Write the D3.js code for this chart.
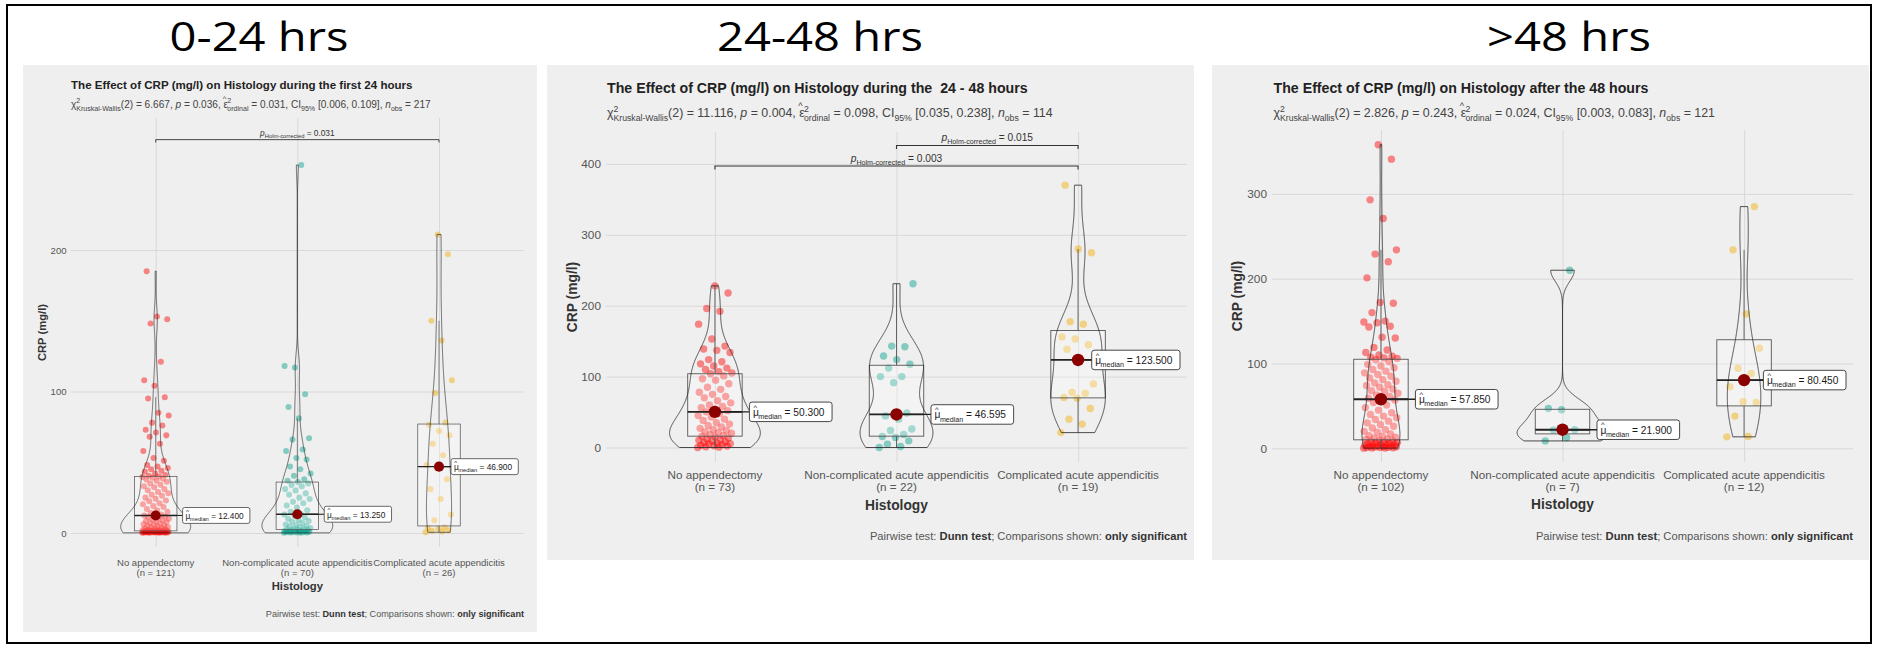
<!DOCTYPE html>
<html>
<head>
<meta charset="utf-8">
<script src="https://cdn.jsdelivr.net/npm/d3@7"></script>
<style>
  body { margin: 0; background: #fff; }
  svg text { font-family: "Liberation Sans", Arial, sans-serif; white-space: pre; }
</style>
</head>
<body>
<svg id="chart" width="1878" height="647"></svg>
<script>
// ---- data ----
const periodTitles = ['0-24 hrs', '24-48 hrs', '>48 hrs'];
const plotTitles = [
  'The Effect of CRP (mg/l) on Histology during the first 24 hours',
  'The Effect of CRP (mg/l) on Histology during the  24 - 48 hours',
  'The Effect of CRP (mg/l) on Histology after the 48 hours'
];
const categories = ['No appendectomy', 'Non-complicated acute appendicitis', 'Complicated acute appendicitis'];
const groupCounts = [[121, 70, 26], [73, 22, 19], [102, 7, 12]];

const chiSquared = ['6.667', '11.116', '2.826'];
const pValues = ['0.036', '0.004', '0.243'];
const epsilonSq = ['0.031', '0.098', '0.024'];
const ci95 = ['[0.006, 0.109]', '[0.035, 0.238]', '[0.003, 0.083]'];
const nObs = ['217', '114', '121'];

const medians = [[12.4, 13.25, 46.9], [50.3, 46.595, 123.5], [57.85, 21.9, 80.45]];
const lowerQuartiles = [[1.5, 2.5, 5], [16, 16, 70], [10, 17, 50]];
const upperQuartiles = [[40, 36, 77], [104, 116, 165], [105, 46, 128]];
const yTicks = [[0, 100, 200], [0, 100, 200, 300, 400], [0, 100, 200, 300]];

// significant Dunn comparisons: groups a-b, bracket level (mg/l), Holm p
const pairwise = [
  [{ a: 0, b: 2, level: 278, p: '0.031' }],
  [{ a: 1, b: 2, level: 426, p: '0.015' }, { a: 0, b: 2, level: 397, p: '0.003' }],
  []
];

// CRP values per patient (mg/l)
const crp24None = [0.1, 0.1, 0.2, 0.2, 0.3, 0.3, 0.3, 0.4, 0.4, 0.5, 0.5, 0.5, 0.6, 0.6, 0.7, 0.7, 0.8, 0.8, 0.9, 0.9,
  1, 1, 1, 1.1, 1.2, 1.2, 1.3, 1.3, 1.4, 1.4, 1.5, 1.6, 1.8, 2, 2.1, 2.3, 2.5, 2.8, 3, 3.2, 3.5, 3.9, 4.2, 4.5, 4.9,
  5.3, 5.8, 6.2, 6.7, 7.1, 7.6, 8, 8.5, 9, 9.6, 10.1, 10.7, 11.2, 11.7, 12.1, 12.4, 13, 14.2, 15, 16.1, 17, 18.4, 19,
  20.3, 21, 22.5, 23, 24.2, 25, 26.4, 27, 28.1, 29, 30.2, 31, 32.3, 33, 34.1, 35, 36.2, 37, 37.8, 38.4, 39, 39.6, 40,
  40.5, 41, 42, 43.5, 44, 45, 46, 47, 48, 51, 53, 58, 63, 68, 69, 71, 73, 76, 78, 83, 85, 95, 96, 104, 108, 121, 148,
  151, 153, 185];
const crp24Simple = [0.1, 0.2, 0.3, 0.3, 0.4, 0.5, 0.5, 0.6, 0.8, 0.9, 1, 1.1, 1.3, 1.5, 1.7, 1.9, 2.1, 2.4,
  2.6, 2.8, 3, 3.5, 4, 4.5, 5, 5.5, 6, 7, 8, 8.5, 9, 10, 11, 12, 13, 13.5, 15, 16, 18, 19.5, 21, 22, 24, 25, 27, 28,
  30, 31, 33, 34, 35, 36, 37, 38, 40.5, 42, 45, 47, 52, 53, 58, 59, 66, 67, 81, 89, 98, 117, 118, 260];
const crp24Complicated = [0.5, 1, 1.5, 2, 3, 3.5, 4, 9, 13, 24, 31, 38, 45.8, 48, 55, 63, 69, 72, 76.5, 78, 99, 108,
  136, 150, 197, 211];

const crp48None = [0, 0.5, 1, 2, 2.5, 3, 4, 5, 5.5, 6, 7, 8, 9, 10, 11, 12, 13.5, 15, 16, 17, 18, 20, 21, 22, 24, 25,
  27, 29, 31, 33, 35, 38, 40, 43, 45, 48, 50.3, 52, 54, 56, 58, 60, 63, 66, 70, 72, 75, 78, 82, 85, 90, 95, 97, 101,
  104, 105, 107, 110, 112, 115, 118, 121, 124, 134, 137, 139, 143, 153, 174, 192, 196, 218, 228];
const crp48Simple = [0, 1.5, 4.7, 9.4, 14, 15.5, 18.5, 24, 26, 40, 44.6, 48.6, 91.5, 100, 100, 112, 117.5, 124, 129,
  142, 143, 231];
const crp48Complicated = [21, 33, 40, 55, 69.5, 70.5, 76.5, 78, 89.7, 123.5, 138.5, 145, 153, 156, 174, 177.5, 274.6,
  280, 370];

const crpLateNone = [0.2, 0.3, 0.5, 0.6, 0.8, 1, 1.2, 1.5, 1.8, 2, 2.3, 2.6, 3, 3.4, 3.8, 4.2, 4.6, 5, 5.5, 6, 6.5, 7,
  7.6, 8.2, 9, 9.8, 10.5, 11, 12, 13, 14, 15, 17, 19, 20, 22, 24, 26, 28, 30, 32, 34, 36, 38, 40, 42, 45, 48, 51, 54,
  57, 58.7, 59, 61, 63, 65, 67, 68, 70, 72, 74, 75, 77, 79, 81, 83, 85, 87, 89, 91, 93, 95, 97, 99, 102, 104.5, 106,
  106.5, 107.5, 108.5, 110, 113, 116, 119, 130, 131, 143, 144, 148, 149, 150, 160, 171, 172, 201, 220, 229, 234, 271,
  293, 341, 358];
const crpLateSimple = [8.7, 12.5, 21.5, 21.9, 45.5, 47, 210];
const crpLateComplicated = [13.5, 14, 38, 54, 55, 72.7, 88.2, 94.4, 118, 158.5, 234, 285];

const crpData = [
  [crp24None, crp24Simple, crp24Complicated],
  [crp48None, crp48Simple, crp48Complicated],
  [crpLateNone, crpLateSimple, crpLateComplicated]
];

const groupColors = ['#FF0000', '#00A08A', '#F2AD00'];

// ---- layout ----
const layout = [
  { bg: [23, 65, 514, 567], k: 0.815, left: 70.7, right: 524, top: 118, bottom: 547, y0: 533, y100: 391.5,
    titleX: 71, titleY: 89, subY: 107.5, catY: 566, histY: 590, capY: 617, yTitleX: 42 },
  { bg: [547, 65, 647, 495], k: 1, left: 606, right: 1187, top: 132, bottom: 462, y0: 447.5, y100: 376.6,
    titleX: 607, titleY: 93, subY: 117, catY: 479, histY: 510, capY: 540, yTitleX: 572 },
  { bg: [1212, 65, 657, 495], k: 1, left: 1272, right: 1853, top: 130, bottom: 462, y0: 448.3, y100: 363.5,
    titleX: 1273.5, titleY: 93, subY: 117, catY: 479, histY: 509, capY: 540, yTitleX: 1237 }
];
const periodCenters = [259, 820, 1569];

const svg = d3.select('#chart');

svg.append('rect')
  .attr('x', 7).attr('y', 5).attr('width', 1864).attr('height', 638)
  .attr('fill', 'none').attr('stroke', '#000').attr('stroke-width', 2);

// big period headings (stretched a bit to match the wide original face)
const heads = svg.selectAll('text.period').data(periodTitles).enter().append('text')
  .attr('class', 'period')
  .attr('x', (d, i) => periodCenters[i]).attr('y', 51)
  .attr('text-anchor', 'middle')
  .style('font-family', '"Open Sans", Lato, sans-serif')
  .attr('font-size', 40).attr('fill', '#000')
  .text(d => d);
const stretch = 179 / heads.node().getComputedTextLength();
heads.attr('transform', (d, i) => `translate(${periodCenters[i]},0) scale(${stretch},1) translate(${-periodCenters[i]},0)`);

// text with sub/superscripts and hats
function rich(sel, parts, fs) {
  let cur = 0;
  parts.forEach(p => {
    let off = p.s === 'sub' ? fs * 0.3 : p.s === 'sup' ? -fs * 0.42 : 0;
    if (p.off !== undefined) off = p.off * fs;
    const size = p.size ? fs * p.size : (p.s ? fs * 0.7 : fs);
    const ts = sel.append('tspan').text(p.t)
      .attr('font-size', size)
      .attr('dy', off - cur);
    if (p.dx) ts.attr('dx', p.dx * fs);
    if (p.i) ts.attr('font-style', 'italic');
    if (p.b) ts.attr('font-weight', 'bold').attr('fill', '#333');
    cur = off;
  });
  return sel;
}
const hat = [{ t: '^', off: -0.62, size: 0.75, dx: -0.52 }];

function kde(values) {
  const s = values.slice().sort(d3.ascending);
  const n = s.length;
  const sd = d3.deviation(s);
  const iqr = d3.quantile(s, 0.75) - d3.quantile(s, 0.25);
  let lo = Math.min(sd, iqr / 1.34);
  if (!(lo > 0)) lo = sd;
  const bw = 0.9 * lo * Math.pow(n, -0.2);
  const c = 1 / (n * bw * Math.sqrt(2 * Math.PI));
  return d3.range(512).map(t => {
    const v = s[0] + (s[n - 1] - s[0]) * t / 511;
    return [v, c * d3.sum(s, xi => Math.exp(-0.5 * ((v - xi) / bw) ** 2))];
  });
}

layout.forEach((L, i) => {
  const k = L.k;
  const g = svg.append('g');

  g.append('rect')
    .attr('x', L.bg[0]).attr('y', L.bg[1]).attr('width', L.bg[2]).attr('height', L.bg[3])
    .attr('fill', '#efefef');

  const x = d3.scalePoint().domain(categories).range([L.left, L.right]).padding(0.6);
  const step = x.step();
  const y = d3.scaleLinear().domain([0, 100]).range([L.y0, L.y100]);

  // grid + y labels
  g.append('g')
    .attr('transform', `translate(${L.left},0)`)
    .call(d3.axisLeft(y).tickValues(yTicks[i]).tickSize(-(L.right - L.left)).tickPadding(5 * k).tickFormat(d3.format('d')))
    .call(a => a.select('.domain').remove())
    .call(a => a.selectAll('line').attr('stroke', '#d6d6d6').attr('stroke-width', 0.9))
    .call(a => a.selectAll('text').attr('font-size', 11.8 * k).attr('fill', '#555')
      .style('font-family', '"Liberation Sans", Arial, sans-serif'));

  g.append('g')
    .attr('transform', `translate(0,${L.bottom})`)
    .call(d3.axisBottom(x).tickSize(-(L.bottom - L.top)).tickFormat(''))
    .call(a => a.select('.domain').remove())
    .call(a => a.selectAll('line').attr('stroke', '#d6d6d6').attr('stroke-width', 0.9));

  // jittered points
  crpData[i].forEach((vals, j) => {
    g.append('g').selectAll('circle').data(vals).enter().append('circle')
      .attr('cx', (d, idx) => x(categories[j]) + (((idx * 0.6180339887) % 1) - 0.5) * 2 * 0.095 * step)
      .attr('cy', d => y(d))
      .attr('r', 3.7 * k)
      .attr('fill', groupColors[j])
      .attr('fill-opacity', 0.45);
  });

  // boxplots
  crpData[i].forEach((vals, j) => {
    const cx = x(categories[j]);
    const q1 = lowerQuartiles[i][j], q3 = upperQuartiles[i][j];
    const iqr = q3 - q1;
    const hiW = d3.max(vals.filter(v => v <= q3 + 1.5 * iqr));
    const loW = d3.min(vals.filter(v => v >= q1 - 1.5 * iqr));
    const hw = 0.15 * step;
    g.append('line').attr('x1', cx).attr('x2', cx).attr('y1', y(q3)).attr('y2', y(hiW))
      .attr('stroke', '#555').attr('stroke-width', 0.9 * k);
    g.append('line').attr('x1', cx).attr('x2', cx).attr('y1', y(q1)).attr('y2', y(loW))
      .attr('stroke', '#555').attr('stroke-width', 0.9 * k);
    g.append('rect')
      .attr('x', cx - hw).attr('width', 2 * hw)
      .attr('y', y(q3)).attr('height', y(q1) - y(q3))
      .attr('fill', '#fff').attr('fill-opacity', 0.25)
      .attr('stroke', '#555').attr('stroke-width', 0.9 * k);
    g.append('line').attr('x1', cx - hw).attr('x2', cx + hw)
      .attr('y1', y(medians[i][j])).attr('y2', y(medians[i][j]))
      .attr('stroke', '#222').attr('stroke-width', 1.8 * k);
  });

  // violins, area-scaled within the panel
  const dens = crpData[i].map(kde);
  const maxD = d3.max(dens, d => d3.max(d, p => p[1]));
  dens.forEach((dd, j) => {
    const cx = x(categories[j]);
    const w = d3.scaleLinear().domain([0, maxD]).range([0, 0.25 * step]);
    g.append('path')
      .attr('d', d3.area().y(p => y(p[0])).x0(p => cx - w(p[1])).x1(p => cx + w(p[1]))(dd))
      .attr('fill', 'none').attr('stroke', '#222').attr('stroke-width', 0.8 * k);
  });

  // medians + labels
  categories.forEach((c, j) => {
    const cx = x(c);
    const my = y(medians[i][j]);
    const lg = g.append('g');
    const t = lg.append('text').attr('fill', '#1a1a1a');
    rich(t, [{ t: 'μ' }, ...hat, { t: 'median', s: 'sub', dx: 0.12 },
      { t: ` = ${d3.format('.3f')(medians[i][j])}` }], 10.2 * k);
    const tw = t.node().getComputedTextLength();
    const pad = 3.5 * k, bh = 19.5 * k;
    const bw = tw + 2 * pad;
    const left = Math.min(cx + 0.19 * step, L.right - bw - 7 * k);
    t.attr('x', left + pad).attr('y', my + 4 * k);
    g.append('line').attr('x1', cx).attr('x2', left).attr('y1', my).attr('y2', my)
      .attr('stroke', '#222').attr('stroke-width', 1.3 * k);
    lg.insert('rect', 'text')
      .attr('x', left).attr('y', my - bh / 2).attr('width', bw).attr('height', bh)
      .attr('rx', 2.5 * k).attr('fill', '#fff').attr('stroke', '#333').attr('stroke-width', 0.9 * k);
    g.append('circle').attr('cx', cx).attr('cy', my).attr('r', 6.2 * k).attr('fill', '#8B0000');
    lg.raise();
  });

  // pairwise brackets
  pairwise[i].forEach(b => {
    const yb = y(b.level);
    const x1 = x(categories[b.a]), x2 = x(categories[b.b]);
    const tip = 3.5 * k;
    g.append('path')
      .attr('d', `M${x1},${yb + tip}V${yb}H${x2}V${yb + tip}`)
      .attr('fill', 'none').attr('stroke', '#333').attr('stroke-width', 1.1 * k);
    const t = g.append('text').attr('x', (x1 + x2) / 2).attr('y', yb - 4.5 * k)
      .attr('text-anchor', 'middle').attr('fill', '#333');
    rich(t, [{ t: 'p', i: 1 }, { t: 'Holm-corrected', s: 'sub' }, { t: ` = ${b.p}` }], 10.2 * k);
  });

  // x labels
  categories.forEach((c, j) => {
    g.append('text').attr('x', x(c)).attr('y', L.catY).attr('text-anchor', 'middle')
      .attr('font-size', 11.7 * k).attr('fill', '#555').text(c);
    g.append('text').attr('x', x(c)).attr('y', L.catY + 12.3 * k).attr('text-anchor', 'middle')
      .attr('font-size', 11.7 * k).attr('fill', '#555').text(`(n = ${groupCounts[i][j]})`);
  });

  g.append('text').attr('x', (L.left + L.right) / 2).attr('y', L.histY).attr('text-anchor', 'middle')
    .attr('font-size', 13.8 * k).attr('font-weight', 'bold').attr('fill', '#333').text('Histology');

  g.append('text')
    .attr('transform', `translate(${L.yTitleX + 4.5 * k},${(L.top + L.bottom) / 2}) rotate(-90)`)
    .attr('text-anchor', 'middle')
    .attr('font-size', 13.8 * k).attr('font-weight', 'bold').attr('fill', '#333').text('CRP (mg/l)');

  // titles
  g.append('text').attr('x', L.titleX).attr('y', L.titleY)
    .attr('font-size', 14.2 * k).attr('font-weight', 'bold').attr('fill', '#222').text(plotTitles[i]);

  const sub = g.append('text').attr('x', L.titleX).attr('y', L.subY).attr('fill', '#444');
  rich(sub, [
    { t: 'χ' }, { t: '2', s: 'sup' }, { t: 'Kruskal-Wallis', s: 'sub', dx: -0.39 },
    { t: `(2) = ${chiSquared[i]}, ` }, { t: 'p', i: 1 }, { t: ` = ${pValues[i]}, ` },
    { t: 'ε' }, ...hat, { t: '2', s: 'sup', dx: 0.1 }, { t: 'ordinal', s: 'sub', dx: -0.39 },
    { t: ` = ${epsilonSq[i]}, CI` }, { t: '95%', s: 'sub' }, { t: ` ${ci95[i]}, ` },
    { t: 'n', i: 1 }, { t: 'obs', s: 'sub' }, { t: ` = ${nObs[i]}` }
  ], 12.4 * k);

  const cap = g.append('text').attr('x', L.right).attr('y', L.capY).attr('text-anchor', 'end').attr('fill', '#555');
  rich(cap, [
    { t: 'Pairwise test: ' }, { t: 'Dunn test', b: 1 }, { t: '; Comparisons shown: ' }, { t: 'only significant', b: 1 }
  ], 11.2 * k);
});
</script>
</body>
</html>
